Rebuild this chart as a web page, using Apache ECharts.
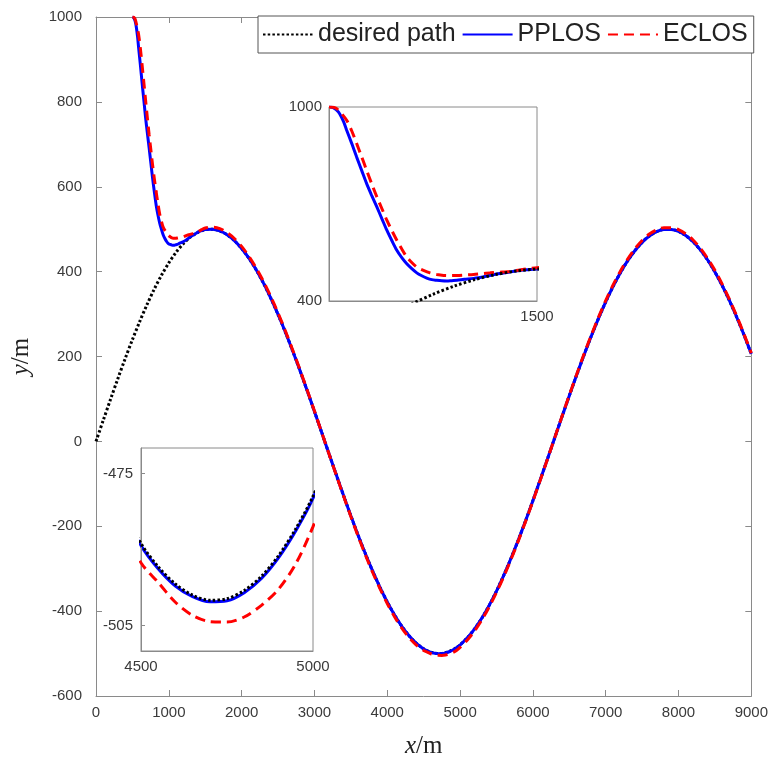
<!DOCTYPE html>
<html>
<head>
<meta charset="utf-8">
<script src="https://cdn.jsdelivr.net/npm/echarts@6/dist/echarts.min.js"></script>
<style>
html,body{margin:0;padding:0;background:#fff;}
#chart{width:771px;height:769px;}
</style>
</head>
<body>
<div id="chart"></div>
<script>
// ---------- data ----------
const xTail = [1600,1700,1800,1900,2000,2100,2200,2300,2400,2500,2600,2700,2800,2900,3000,3100,3200,3300,3400,3500,3600,3700,3800,3900,4000,4100,4200,4300,4400,
  4500,4550,4600,4650,4700,4750,4800,4850,4900,4950,5000,
  5100,5200,5300,5400,5500,5600,5700,5800,5900,6000,6100,6200,6300,6400,6500,6600,6700,6800,6900,7000,7100,7200,7300,7400,7500,7600,7700,7800,7900,8000,8100,8200,8300,8400,8500,8600,8700,8800,8900,9000];

const desiredHeadX = [0,100,200,300,400,500,600,700,800,900,1000,1100,1200,1300,1400,1500];
const desiredHeadY = [0,49.9,99.3,147.8,194.7,239.7,282.3,322.1,358.7,391.7,420.7,445.6,466.0,481.8,492.7,498.7];
const desiredTailY = [499.8,495.8,486.9,473.2,454.6,431.6,404.3,372.9,337.7,299.2,257.8,213.7,167.5,119.6,70.6,20.8,-29.2,-78.9,-127.8,-175.4,-221.3,-264.9,-305.9,-343.9,-378.4,-409.1,-435.8,-458.1,-475.8,
  -488.8,-493.4,-496.8,-499.0,-500.0,-499.7,-498.1,-495.3,-491.2,-485.9,-479.5,
  -462.9,-441.8,-416.2,-386.4,-352.8,-315.6,-275.4,-232.3,-187.0,-139.7,-91.1,-41.6,8.4,58.3,107.6,155.7,202.4,247.0,289.2,328.5,364.5,396.8,425.2,449.3,469.0,483.9,494.1,499.3,499.4,494.7,485.0,470.4,451.1,427.3,399.3,367.2,331.5,292.5,250.5,206.1];

const pplosHeadX = [500,520,545,570,585,610,633,657,681,705,730,754,778,802,826,850,874,898,922,946,970,994,1018,1042,1067,1090,1115,1150,1195,1250,1300,1356,1400,1450,1500];
const pplosHeadY = [1000,998,985,955,928,886,845,804,763,727,691,655,619,587,557,534,515,500,487,478,471,466,464,462.5,462,463,464,467,470,476,482.5,488,493,496.5,499];
const pplosTailY = [499.8,495.8,486.9,473.2,454.6,431.6,404.3,372.9,337.7,299.2,257.8,213.7,167.5,119.6,70.6,20.8,-29.2,-78.9,-127.8,-175.4,-221.3,-264.9,-305.9,-343.9,-378.4,-409.1,-435.8,-458.1,-476.1,
  -489.2,-493.8,-497.2,-499.3,-500.3,-500.1,-498.5,-495.7,-491.6,-486.3,-479.9,
  -462.9,-441.8,-416.2,-386.4,-352.8,-315.6,-275.4,-232.3,-187.0,-139.7,-91.1,-41.6,8.4,58.3,107.6,155.7,202.4,247.0,289.2,328.5,364.5,396.8,425.2,449.3,469.0,483.9,494.1,499.3,499.4,494.7,485.0,470.4,451.1,427.3,399.3,367.2,331.5,292.5,250.5,206.1];

const eclosHeadX = [500,520,537,560,585,610,633,657,681,705,730,754,778,802,826,850,874,898,922,954,986,1018,1051,1083,1115,1155,1195,1235,1275,1316,1356,1400,1450,1500];
const eclosHeadY = [1000,999,995,980,959,925,887,846,804,763,722,686,650,618,588,561,536,519,505,495,487,482,479,478.5,479,480.5,482,484.5,487,489,490.5,494,499,503];
const eclosTailY = [505,501.5,492,478,459.5,436,408.5,377,341.5,302.5,260.5,216,169.5,121,71.5,21,-29.5,-79.5,-129,-177,-223.5,-267.5,-309,-347,-382,-413,-440,-462.5,-480,
  -492.6,-496.5,-500.4,-503.0,-504.2,-504.3,-503.3,-501.0,-497.8,-492.8,-485.5,
  -468,-446.5,-420.5,-390,-356,-318.5,-278,-234.5,-188.5,-141,-92,-42,8.5,59,108.5,157,204.5,249.5,292,331.5,368,400.5,429,453.5,473.5,488.5,498.5,503.5,503.5,499,489,474.5,455,431,403,370.5,334.5,295,252.5,208];

const seriesNames = ['desired path','PPLOS','ECLOS'];
const inset1XLabels = [1500];
const inset1YLabels = [400,1000];
const inset2XLabels = [4500,5000];
const inset2YLabels = [-505,-475];

// ---------- build ----------
function zip(xs, ys){ return xs.map((x,i)=>[x, ys[i]]); }
const desiredData = zip(desiredHeadX.concat(xTail), desiredHeadY.concat(desiredTailY));
const pplosData = zip(pplosHeadX.concat(xTail), pplosHeadY.concat(pplosTailY));
const eclosData = zip(eclosHeadX.concat(xTail), eclosHeadY.concat(eclosTailY));

const AXC = '#8a8a8a';
const plain = v => String(v);
const LBL = {color:'#3a3a3a', fontFamily:'Liberation Sans Narrow, Liberation Sans, Arial, sans-serif', fontSize:15, formatter:plain};

const styles = {
  desired: {color:'#000', width:3, type:[2.5,2.2], cap:'butt'},
  pplos: {color:'#0000ff', width:3, type:'solid'},
  eclos: {color:'#ff0000', width:3, type:[10,6], cap:'butt'}
};

function mkSeries(name, data, st, xi, yi, z){
  return {
    name: name, type:'line', data:data, xAxisIndex:xi, yAxisIndex:yi,
    showSymbol:false, symbol:'none', smooth:0.3, z:z, clip:true,
    lineStyle:{color:st.color, width:st.width, type:st.type, cap:st.cap||'butt'},
    itemStyle:{color:st.color},
    emphasis:{disabled:true}, silent:true
  };
}
const axLine = {onZero:false, lineStyle:{color:AXC, width:1}};
const tickIn = {inside:true, length:6, lineStyle:{color:AXC}};

const chart = echarts.init(document.getElementById('chart'), null, {renderer:'canvas'});
const option = {
  animation:false,
  backgroundColor:'#fff',
  grid:[
    {left:96, top:17, width:656, height:679},
    {left:329, top:107, width:208, height:194, show:true, backgroundColor:'#fff', borderColor:AXC, borderWidth:1, z:10},
    {left:141, top:448, width:172, height:203, show:true, backgroundColor:'#fff', borderColor:AXC, borderWidth:1, z:10}
  ],
  legend:{
    data:seriesNames, left:258, top:16, orient:'horizontal',
    padding:[6,6,6,4], itemGap:6, itemWidth:50, itemHeight:14,
    backgroundColor:'#fff', borderColor:'#555', borderWidth:1, z:20,
    itemStyle:{opacity:0},
    textStyle:{fontFamily:'Liberation Sans, Arial, sans-serif', fontSize:25, color:'#222'}
  },
  xAxis:[
    {gridIndex:0, type:'value', min:0, max:9000, interval:1000,
     axisLine:axLine, axisTick:tickIn,
     axisLabel:Object.assign({margin:9}, LBL), splitLine:{show:false},
     name:'{i|x}{r|/m}', nameLocation:'middle', nameGap:38,
     nameTextStyle:{rich:{i:{fontFamily:'Liberation Serif, DejaVu Serif, serif', fontStyle:'italic', fontSize:25, color:'#222'},
                         r:{fontFamily:'Liberation Serif, DejaVu Serif, serif', fontSize:25, color:'#222'}}}},
    {gridIndex:0, type:'value', min:0, max:9000, interval:1000, position:'top',
     axisLine:axLine, axisTick:tickIn,
     axisLabel:{show:false}, splitLine:{show:false}},
    {gridIndex:1, type:'value', min:500, max:1500, z:12,
     axisLine:axLine, axisTick:{show:false},
     axisLabel:Object.assign({margin:8, customValues:inset1XLabels}, LBL), splitLine:{show:false}},
    {gridIndex:2, type:'value', min:4500, max:5000, z:12,
     axisLine:axLine, axisTick:{show:false},
     axisLabel:Object.assign({margin:8, customValues:inset2XLabels}, LBL), splitLine:{show:false}}
  ],
  yAxis:[
    {gridIndex:0, type:'value', min:-600, max:1000, interval:200,
     axisLine:axLine, axisTick:tickIn,
     axisLabel:Object.assign({margin:14}, LBL), splitLine:{show:false},
     name:'{i|y}{r|/m}', nameLocation:'middle', nameGap:62, nameRotate:90,
     nameTextStyle:{rich:{i:{fontFamily:'Liberation Serif, DejaVu Serif, serif', fontStyle:'italic', fontSize:25, color:'#222'},
                         r:{fontFamily:'Liberation Serif, DejaVu Serif, serif', fontSize:25, color:'#222'}}}},
    {gridIndex:0, type:'value', min:-600, max:1000, interval:200, position:'right',
     axisLine:axLine, axisTick:tickIn,
     axisLabel:{show:false}, splitLine:{show:false}},
    {gridIndex:1, type:'value', min:400, max:1000, z:12,
     axisLine:axLine, axisTick:{show:false},
     axisLabel:Object.assign({margin:7, customValues:inset1YLabels}, LBL), splitLine:{show:false}},
    {gridIndex:2, type:'value', min:-510, max:-470, z:12,
     axisLine:axLine, axisTick:{show:true, inside:true, length:4, customValues:inset2YLabels, lineStyle:{color:AXC}},
     axisLabel:Object.assign({margin:8, customValues:inset2YLabels}, LBL), splitLine:{show:false}}
  ],
  series:[
    mkSeries('desired path', desiredData, styles.desired, 0, 0, 2),
    mkSeries('PPLOS', pplosData, styles.pplos, 0, 0, 3),
    mkSeries('ECLOS', eclosData, styles.eclos, 0, 0, 4),
    mkSeries('PPLOS inset1', pplosData, styles.pplos, 2, 2, 11),
    mkSeries('ECLOS inset1', eclosData, styles.eclos, 2, 2, 12),
    mkSeries('desired inset1', desiredData, styles.desired, 2, 2, 13),
    mkSeries('PPLOS inset2', pplosData, styles.pplos, 3, 3, 11),
    mkSeries('ECLOS inset2', eclosData, styles.eclos, 3, 3, 12),
    mkSeries('desired inset2', desiredData, styles.desired, 3, 3, 13)
  ]
};
chart.setOption(option);
</script>
</body>
</html>
